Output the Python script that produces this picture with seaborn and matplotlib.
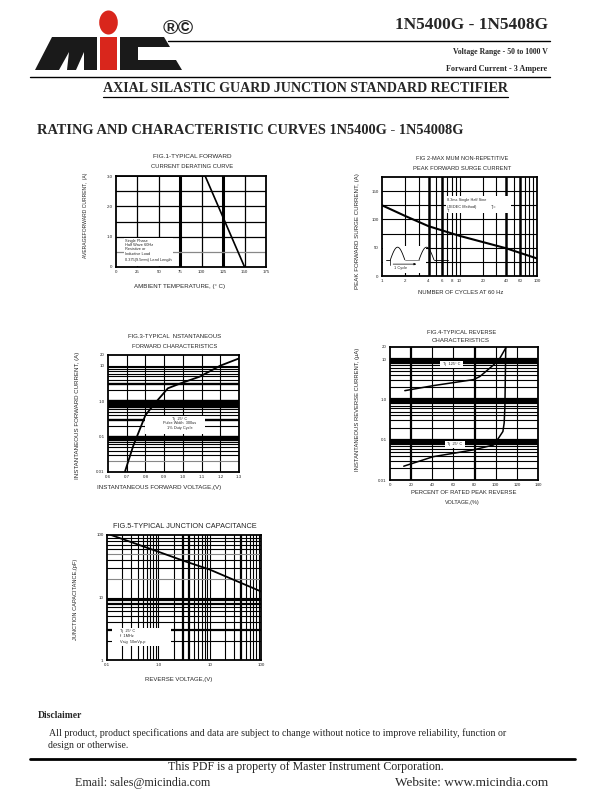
import numpy as np
import matplotlib
matplotlib.use("Agg")
import matplotlib.pyplot as plt
import seaborn as sns
from matplotlib.patches import Polygon, Circle, Rectangle
from matplotlib.lines import Line2D
from matplotlib.ticker import NullLocator

# ---------------- data ----------------
fig1_temp = [0, 104, 150]
fig1_current = [3.0, 3.0, 0.0]
fig1_xticks = [0, 25, 50, 75, 100, 125, 150, 175]
fig1_yticks = [0, 1.0, 2.0, 3.0]
fig1_yticklabels = ["0", "1.0", "2.0", "3.0"]

fig2_cycles = [1, 2, 4, 10, 20, 40, 100]
fig2_surge = [125, 106, 88, 71, 60, 49, 31]
fig2_xticks = [1, 2, 4, 6, 8, 10, 20, 40, 60, 100]
fig2_yticks = [0, 50, 100, 150]

fig3_volt = [0.69, 0.735, 0.80, 0.85, 0.92, 0.99, 1.09, 1.20, 1.30]
fig3_curr = [0.01, 0.055, 0.4, 0.86, 2.3, 3.2, 4.9, 10, 16]
fig3_xticks = [0.6, 0.7, 0.8, 0.9, 1.0, 1.1, 1.2, 1.3]
fig3_yticks = [0.01, 0.1, 1.0, 10, 20]
fig3_yticklabels = ["0.01", "0.1", "1.0", "10", "20"]

fig4_t125_pct = [14, 41, 79, 85, 98, 104, 110]
fig4_t125_ir = [1.65, 2.2, 3.1, 3.7, 7.2, 10.6, 20]
fig4_t25_pct = [13, 41, 60, 79, 98, 102.7, 106.8, 108, 108.7, 109.5]
fig4_t25_ir = [0.022, 0.038, 0.046, 0.056, 0.074, 0.11, 0.16, 0.26, 0.67, 20]
fig4_xticks = [0, 20, 40, 60, 80, 100, 120, 140]

fig5_volt = [0.12, 1.0, 3.0, 10, 100]
fig5_cap = [100, 54, 39, 28, 12.5]
fig5_xticks = [0.1, 1.0, 10, 100]
fig5_xticklabels = ["0.1", "1.0", "10", "100"]
fig5_yticks = [1, 10, 100]

# ---------------- setup ----------------
sns.set_style("white")
plt.rcParams["font.family"] = ["Liberation Sans", "DejaVu Sans"]

W, H = 612, 792
fig = plt.figure(figsize=(6.12, 7.92), dpi=100)
renderer = fig.canvas.get_renderer()
SERIF = ["Liberation Serif", "DejaVu Serif"]
SANS = ["Liberation Sans", "DejaVu Sans"]


def fx(x):
    return x / W


def fy(y):
    return 1 - y / H


def htext(s, x0, x1, yc, family=SANS, weight="normal", size=8, ax_ha="center", **kw):
    t = fig.text(fx((x0 + x1) / 2), fy(yc), s, ha="center", va="center",
                 family=family, weight=weight, fontsize=size, **kw)
    w = t.get_window_extent(renderer).width
    if w > 0:
        t.set_fontsize(size * (x1 - x0) / w)
    return t


def vtext(s, xc, y0, y1, family=SANS, size=5):
    t = fig.text(fx(xc), fy((y0 + y1) / 2), s, rotation=90, ha="center", va="center",
                 family=family, fontsize=size)
    h = t.get_window_extent(renderer).height
    if h > 0:
        t.set_fontsize(size * (y1 - y0) / h)
    return t


def hline(x0, x1, y, lw=1.0, color="black"):
    fig.add_artist(Line2D([fx(x0), fx(x1)], [fy(y), fy(y)], lw=lw, color=color))


def make_ax(l, t, r, b):
    ax = fig.add_axes([l / W, 1 - b / H, (r - l) / W, (b - t) / H])
    for sp in ax.spines.values():
        sp.set_linewidth(1.3)
        sp.set_color("black")
        sp.set_zorder(5)
    ax.tick_params(length=0, pad=2.5, labelsize=3.2)
    return ax


def vgrid(ax, vals, thick=(), gray=(), lw=0.7, tlw=1.8):
    for v in vals:
        c = "#888888" if v in gray else "black"
        ax.axvline(v, color=c, lw=tlw if v in thick else lw, zorder=1)


def hgrid(ax, vals, thick=(), gray=(), lw=0.7, tlw=1.8):
    for v in vals:
        c = "#888888" if v in gray else "black"
        ax.axhline(v, color=c, lw=tlw if v in thick else lw, zorder=1)


def logvals(lo, hi):
    out = []
    for e in range(-3, 4):
        for m in range(1, 10):
            v = round(m * 10.0 ** e, 6)
            if lo < v < hi:
                out.append(v)
    return out


def white_box(ax, x0, y0, x1, y1, transform=None):
    ax.add_patch(Rectangle((x0, y0), x1 - x0, y1 - y0, facecolor="white",
                           edgecolor="none", zorder=2,
                           transform=transform if transform is not None else ax.transData))


# ---------------- header ----------------
# logo
def poly(pts, color):
    fig.add_artist(Polygon([(fx(x), fy(y)) for x, y in pts], closed=True,
                           facecolor=color, edgecolor="none", transform=fig.transFigure))


poly([(35, 70), (52, 37), (97, 37), (97, 70), (84, 70), (84, 52), (76, 70),
      (67, 70), (69, 52), (59, 70)], "#1a1a1a")
poly([(100, 37), (117, 37), (117, 70), (100, 70)], "#d9261c")
fig.add_artist(Circle((fx(108.5), fy(22.5)), 9.3 / W, transform=fig.transFigure,
                      facecolor="#d9261c", edgecolor="none"))
poly([(120, 37), (164, 37), (170, 47), (138, 47), (138, 60), (176, 60), (182, 70),
      (120, 70)], "#1a1a1a")
htext("®©", 163, 194, 28, family=SANS, weight="bold", size=12)

htext("1N5400G - 1N5408G", 395, 548, 25, family=SERIF, weight="bold", size=14)
hline(168, 550, 41, lw=1.0)
htext("Voltage Range - 50 to 1000 V", 452, 548, 52, family=SERIF, weight="bold", size=7)
htext("Forward Current - 3 Ampere", 446, 548, 69, family=SERIF, weight="bold", size=7)
hline(30, 550, 77, lw=1.0)
htext("AXIAL SILASTIC GUARD JUNCTION STANDARD RECTIFIER", 103, 508, 88,
      family=SERIF, weight="bold", size=11)
hline(103, 508, 97, lw=0.9)
htext("RATING AND CHARACTERISTIC CURVES 1N5400G - 1N54008G", 38, 462, 130,
      family=SERIF, weight="bold", size=11)

# ---------------- FIG 1 ----------------
ax1 = make_ax(116, 176, 266, 267)
ax1.set_xlim(0, 175)
ax1.set_ylim(0, 3.0)
vgrid(ax1, [25, 50, 75, 100, 125, 150], thick=(75, 125), lw=0.9, tlw=2.2)
hgrid(ax1, [0.5, 1.0, 1.5, 2.0, 2.5], gray=(0.5,), lw=0.9)
white_box(ax1, 9, 0.03, 66, 0.97)
sns.lineplot(x=fig1_temp, y=fig1_current, ax=ax1, color="black", lw=1.2, zorder=3)
ax1.set_xticks(fig1_xticks)
ax1.set_xticklabels([str(v) for v in fig1_xticks])
ax1.set_yticks(fig1_yticks)
ax1.set_yticklabels(fig1_yticklabels)
for i, s in enumerate(["Single Phase", "Half Wave 60Hz", "Resistive or",
                       "Inductive Load", "0.375(9.5mm) Lead Length"]):
    ax1.text(11, [0.86, 0.71, 0.58, 0.44, 0.22][i], s, fontsize=2.8, va="center", zorder=4)
htext("FIG.1-TYPICAL FORWARD", 152, 232, 157, size=5)
htext("CURRENT DERATING CURVE", 150, 234, 167, size=5)
vtext("AVERAGEFORWARD CURRENT,  (A)", 86, 172, 258)
htext("AMBIENT TEMPERATURE, (° C)", 133, 226, 286, size=5)

# ---------------- FIG 2 ----------------
ax2 = make_ax(382, 177, 537, 276)
ax2.set_xscale("log")
ax2.set_xlim(1, 100)
ax2.set_ylim(0, 175)
vgrid(ax2, [2, 3, 4, 5, 6, 7, 8, 9, 10, 20, 30, 40, 50, 60, 70, 80, 90],
      thick=(4, 6, 40, 60), lw=0.8, tlw=1.8)
hgrid(ax2, [25, 50, 75, 100, 125, 150], lw=0.8)
white_box(ax2, 0.008, 0.03, 0.285, 0.30, transform=ax2.transAxes)
white_box(ax2, 0.41, 0.64, 0.83, 0.81, transform=ax2.transAxes)
sns.lineplot(x=fig2_cycles, y=fig2_surge, ax=ax2, color="black", lw=1.5, zorder=3)
ax2.set_xticks(fig2_xticks)
ax2.set_xticklabels([str(v) for v in fig2_xticks])
ax2.xaxis.set_minor_locator(NullLocator())
ax2.set_yticks(fig2_yticks)
ax2.set_yticklabels([str(v) for v in fig2_yticks])
# waveform sketch (axes coordinates)
tA = ax2.transAxes
base, peak = 0.164, 0.291
xs = np.linspace(0, 1, 40)
for a, b in [(0.054, 0.147), (0.239, 0.335)]:
    ax2.plot(a + (b - a) * xs, base + (peak - base) * np.sin(np.pi * xs), color="black",
             lw=0.6, transform=tA, zorder=3)
ax2.plot([0.025, 0.054], [base, base], color="black", lw=0.6, transform=tA, zorder=3)
ax2.plot([0.147, 0.239], [base, base], color="#777777", lw=0.6, transform=tA, zorder=3)
ax2.plot([0.335, 0.426], [base, base], color="black", lw=0.6, transform=tA, zorder=3)
ax2.plot([0.054, 0.054], [0.11, base], color="black", lw=0.5, transform=tA, zorder=3)
ax2.annotate("", xy=(0.239, 0.12), xytext=(0.054, 0.12), xycoords=tA,
             arrowprops=dict(arrowstyle="-|>", lw=0.5, color="black",
                             mutation_scale=3), zorder=3)
ax2.text(0.075, 0.085, "1 Cycle", fontsize=2.8, transform=tA, va="center", zorder=4)
ax2.text(0.42, 0.772, "8.3ms Single Half Sine", fontsize=2.8, transform=tA, va="center", zorder=4)
ax2.text(0.42, 0.70, "(JEDEC Method)", fontsize=2.8, transform=tA, va="center", zorder=4)
ax2.text(0.70, 0.70, "Tj=", fontsize=2.8, transform=tA, va="center", zorder=4)
ax2.text(0.42, 0.66, "T", fontsize=2.8, transform=tA, va="center", zorder=4)
htext("FIG 2-MAX MUM NON-REPETITIVE", 415, 510, 158, size=5)
htext("PEAK FORWARD SURGE CURRENT", 412, 513, 169, size=5)
vtext("PEAK FORWARD SURGE CURRENT, (A)", 357, 172, 290)
htext("NUMBER OF CYCLES AT 60 Hz", 417, 505, 292, size=5)

# ---------------- FIG 3 ----------------
ax3 = make_ax(108, 355, 239, 472)
ax3.set_yscale("log")
ax3.set_xlim(0.6, 1.3)
ax3.set_ylim(0.01, 20)
vgrid(ax3, [0.7, 0.8, 0.9, 1.0, 1.1, 1.2], lw=0.8)
hgrid(ax3, logvals(0.01, 20), thick=(0.08, 0.09, 0.1, 0.7, 0.8, 0.9, 1.0, 3.0, 0.3),
      gray=(0.02,), lw=0.8, tlw=1.7)
white_box(ax3, 0.80, 0.12, 1.12, 0.38)
sns.lineplot(x=fig3_volt, y=fig3_curr, ax=ax3, color="black", lw=1.3, zorder=3)
ax3.set_xticks(fig3_xticks)
ax3.set_xticklabels([f"{v:.1f}" for v in fig3_xticks])
ax3.set_yticks(fig3_yticks)
ax3.set_yticklabels(fig3_yticklabels)
ax3.yaxis.set_minor_locator(NullLocator())
for s, yv in [("Tj  25° C", 0.31), ("Pulse Width  300us", 0.24), ("1% Duty Cycle", 0.18)]:
    ax3.text(0.985, yv, s, fontsize=2.8, ha="center", va="center", zorder=4)
htext("FIG.3-TYPICAL  NSTANTANEOUS", 127, 222, 336, size=5)
htext("FORWARD CHARACTERISTICS", 131, 218, 346, size=5)
vtext("INSTANTANEOUS FORWARD CURRENT, (A)", 77, 350, 480)
htext("INSTANTANEOUS FORWARD VOLTAGE,(V)", 97, 222, 487, size=5)

# ---------------- FIG 4 ----------------
ax4 = make_ax(390, 347, 538, 480)
ax4.set_yscale("log")
ax4.set_xlim(0, 140)
ax4.set_ylim(0.01, 20)
vgrid(ax4, [20, 40, 60, 80, 100, 120], thick=(20, 80), lw=0.8, tlw=1.6)
hgrid(ax4, logvals(0.01, 20), thick=(0.08, 0.09, 0.1, 0.8, 0.9, 1.0, 8, 9, 10),
      gray=(), lw=0.8, tlw=1.6)
white_box(ax4, 47, 6.0, 69, 9.2)
white_box(ax4, 52, 0.064, 71, 0.092)
sns.lineplot(x=fig4_t125_pct, y=fig4_t125_ir, ax=ax4, color="black", lw=1.1, zorder=3)
sns.lineplot(x=fig4_t25_pct, y=fig4_t25_ir, ax=ax4, color="black", lw=1.1, zorder=3,
             sort=False)
ax4.set_xticks(fig4_xticks)
ax4.set_xticklabels([str(v) for v in fig4_xticks])
ax4.set_yticks(fig3_yticks)
ax4.set_yticklabels(fig3_yticklabels)
ax4.yaxis.set_minor_locator(NullLocator())
ax4.text(58, 7.4, "Tj  125° C", fontsize=2.8, ha="center", va="center", zorder=4)
ax4.text(61.5, 0.077, "Tj  25° C", fontsize=2.8, ha="center", va="center", zorder=4)
htext("FIG.4-TYPICAL REVERSE", 427, 497, 333, size=5)
htext("CHARACTERISTICS", 432, 490, 341, size=5)
vtext("INSTANTANEOUS REVERSE CURRENT, (µA)", 357, 347, 472)
htext("PERCENT OF RATED PEAK REVERSE", 410, 517, 492, size=5)
htext("VOLTAGE,(%)", 445, 480, 503, size=5)

# ---------------- FIG 5 ----------------
ax5 = make_ax(107, 535, 261, 660)
ax5.set_xscale("log")
ax5.set_yscale("log")
ax5.set_xlim(0.1, 100)
ax5.set_ylim(1, 100)
vgrid(ax5, logvals(0.1, 100), thick=(3.0, 4.0, 40.0), lw=0.8, tlw=1.6)
hgrid(ax5, logvals(1, 100), thick=(3.0, 8.0, 9.0), gray=(20.0, 50.0), lw=0.8, tlw=1.6)
white_box(ax5, 0.125, 1.7, 1.74, 3.25)
sns.lineplot(x=fig5_volt, y=fig5_cap, ax=ax5, color="black", lw=1.3, zorder=3)
ax5.set_xticks(fig5_xticks)
ax5.set_xticklabels(fig5_xticklabels)
ax5.set_yticks(fig5_yticks)
ax5.set_yticklabels([str(v) for v in fig5_yticks])
ax5.xaxis.set_minor_locator(NullLocator())
ax5.yaxis.set_minor_locator(NullLocator())
for s, yv in [("Tj  25° C", 2.95), ("f  1MHz", 2.4), ("Vsig  50mVp-p", 1.95)]:
    ax5.text(0.18, yv, s, fontsize=2.8, ha="left", va="center", zorder=4)
htext("FIG.5-TYPICAL JUNCTION CAPACITANCE", 112, 258, 527, size=5)
vtext("JUNCTION CAPACITANCE,(pF)", 75, 558, 640)
htext("REVERSE VOLTAGE,(V)", 145, 213, 679, size=5)

# ---------------- footer ----------------
htext("Disclaimer", 38, 83, 716, family=SERIF, weight="bold", size=7)
htext("All product, product specifications and data are subject to change without notice to improve reliability, function or",
      48, 507, 733, family=SERIF, size=7)
htext("design or otherwise.", 48, 128, 745, family=SERIF, size=7)
hline(30, 575, 759, lw=2.0)
htext("This PDF is a property of Master Instrument Corporation.", 168, 444, 767,
      family=SERIF, size=9)
htext("Email: sales@micindia.com", 75, 210, 783, family=SERIF, size=9)
htext("Website: www.micindia.com", 395, 548, 783, family=SERIF, size=9)

fig.savefig("out.png", dpi=100)
